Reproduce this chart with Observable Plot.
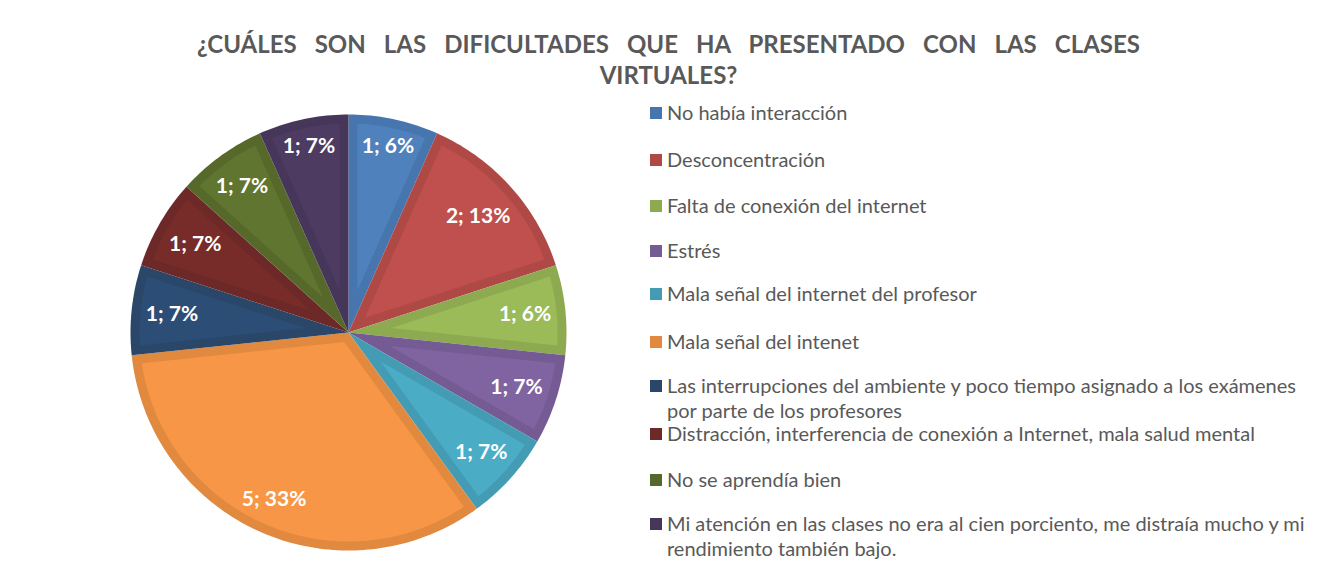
<!DOCTYPE html>
<html>
<head>
<meta charset="utf-8">
<script src="https://cdn.jsdelivr.net/npm/d3@7"></script>
<script src="https://cdn.jsdelivr.net/npm/@observablehq/plot@0.6"></script>
<style>
  html, body { margin: 0; padding: 0; background: #fff; }
  #wrap { position: relative; width: 1335px; height: 579px; overflow: hidden; font-family: Lato, "Open Sans", sans-serif; }
  #title { position: absolute; left: 197px; top: 28px; width: 943px; color: #595959; font-weight: bold; font-size: 24px; line-height: 31px; }
  #title .l1 { display: block; text-align: justify; text-align-last: justify; }
  #title .l2 { display: block; text-align: center; }
  #pie { position: absolute; left: 118px; top: 102px; }
  #legend { position: absolute; left: 0; top: 0; }
  .item { position: absolute; left: 650px; color: #595959; font-size: 20px; line-height: 25px; width: 685px; }
  .sw { position: absolute; left: 0; top: 7px; width: 12px; height: 12px; }
  .tx { margin-left: 17px; white-space: nowrap; }
</style>
</head>
<body>
<div id="wrap">
  <div id="title"><span class="l1">¿CUÁLES SON LAS DIFICULTADES QUE HA PRESENTADO CON LAS CLASES</span><span class="l2">VIRTUALES?</span></div>
  <div id="pie"></div>
  <div id="legend"></div>
</div>
<script>
// ---- data ----
const categories = [
  "No había interacción",
  "Desconcentración",
  "Falta de conexión del internet",
  "Estrés",
  "Mala señal del internet del profesor",
  "Mala señal del intenet",
  "Las interrupciones del ambiente y poco tiempo asignado a los exámenes por parte de los profesores",
  "Distracción, interferencia de conexión a Internet, mala salud mental",
  "No se aprendía bien",
  "Mi atención en las clases no era al cien porciento, me distraía mucho y mi rendimiento también bajo."
];
const values = [1, 2, 1, 1, 1, 5, 1, 1, 1, 1];
const percentLabels = ["6%", "13%", "6%", "7%", "7%", "33%", "7%", "7%", "7%", "7%"];
const fillColors = ["#4F81BD", "#C0504D", "#9BBB59", "#8064A2", "#4BACC6", "#F79646", "#2C4D75", "#772C2A", "#5F7530", "#4D3B62"];
const borderColors = ["#4776AE", "#AF4946", "#8DAA51", "#755B93", "#449CB4", "#E0893F", "#2A4769", "#6C2927", "#56692B", "#46365A"];
// legend line breaks (as wrapped in the reference)
const legendLines = [
  ["No había interacción"],
  ["Desconcentración"],
  ["Falta de conexión del internet"],
  ["Estrés"],
  ["Mala señal del internet del profesor"],
  ["Mala señal del intenet"],
  ["Las interrupciones del ambiente y poco tiempo asignado a los exámenes", "por parte de los profesores"],
  ["Distracción, interferencia de conexión a Internet, mala salud mental"],
  ["No se aprendía bien"],
  ["Mi atención en las clases no era al cien porciento, me distraía mucho y mi", "rendimiento también bajo."]
];
const legendTops = [100, 147, 193, 238, 281, 329, 373, 421, 467, 511];

// ---- geometry ----
const SIZE = 460, RPX = 218;
const D = SIZE / 2 / RPX;           // domain half-extent so r=1 maps to 218px
const bw = 9 / RPX;                 // border width in data units
const arcs = d3.pie().sort(null).value(d => d)(values);

const outer = [], inner = [], labels = [];
arcs.forEach((a, i) => {
  const a0 = a.startAngle, a1 = a.endAngle, th = a1 - a0;
  const n = Math.max(4, Math.ceil(th / 0.02));
  outer.push({x: 0, y: 0, i});
  for (let k = 0; k <= n; k++) {
    const t = a0 + th * k / n;
    outer.push({x: Math.sin(t), y: Math.cos(t), i});
  }
  // inset polygon
  const mid = (a0 + a1) / 2;
  const apex = bw / Math.sin(th / 2);
  inner.push({x: apex * Math.sin(mid), y: apex * Math.cos(mid), i});
  const rho = 1 - bw, del = Math.asin(bw / rho);
  const b0 = a0 + del, b1 = a1 - del;
  for (let k = 0; k <= n; k++) {
    const t = b0 + (b1 - b0) * k / n;
    inner.push({x: rho * Math.sin(t), y: rho * Math.cos(t), i});
  }
  // label placed inside the outer end
  const text = values[i] + "; " + percentLabels[i];
  const w = text.length * 11 / RPX, h = 21 / RPX, pad = 12 / RPX;
  const dist = 1 - pad - (Math.abs(Math.sin(mid)) * w / 2 + Math.abs(Math.cos(mid)) * h / 2);
  labels.push({x: dist * Math.sin(mid), y: dist * Math.cos(mid), text});
});

const chart = Plot.plot({
  width: SIZE, height: SIZE,
  margin: 0,
  x: {domain: [-D, D], axis: null},
  y: {domain: [-D, D], axis: null},
  color: {type: "identity"},
  marks: [
    Plot.line(outer, {x: "x", y: "y", z: "i", fill: d => borderColors[d.i], stroke: "none", curve: "linear"}),
    Plot.line(inner, {x: "x", y: "y", z: "i", fill: d => fillColors[d.i], stroke: "none", curve: "linear"}),
    Plot.text(labels, {x: "x", y: "y", text: "text", fill: "white", fontWeight: "bold", fontSize: 21, fontFamily: "Lato, 'Open Sans', sans-serif"})
  ]
});
document.getElementById("pie").appendChild(chart);

// ---- legend ----
const leg = document.getElementById("legend");
categories.forEach((c, i) => {
  const div = document.createElement("div");
  div.className = "item";
  div.style.top = legendTops[i] + "px";
  const sw = document.createElement("span");
  sw.className = "sw";
  sw.style.background = borderColors[i];
  div.appendChild(sw);
  const tx = document.createElement("div");
  tx.className = "tx";
  tx.innerHTML = legendLines[i].join("<br>");
  tx.title = c;
  div.appendChild(tx);
  leg.appendChild(div);
});
</script>
</body>
</html>
